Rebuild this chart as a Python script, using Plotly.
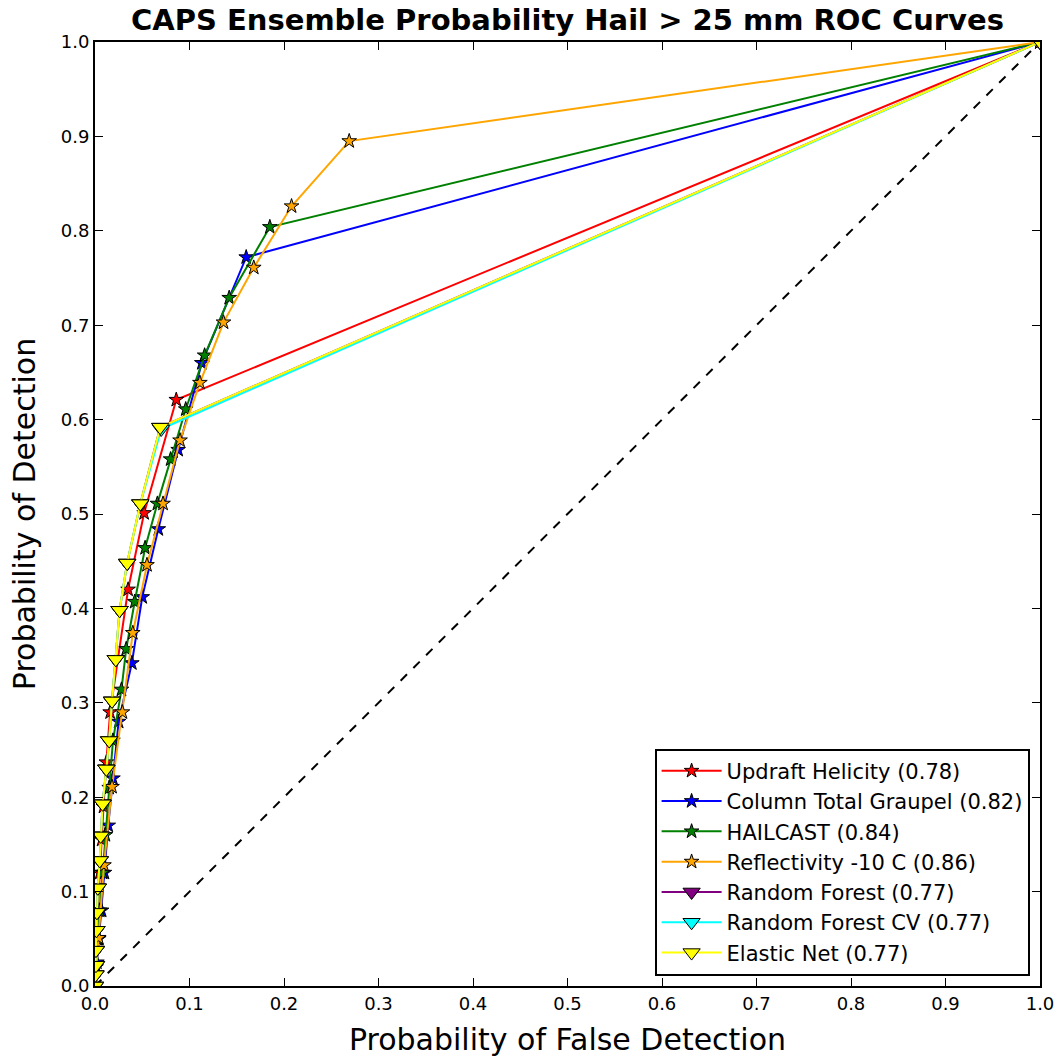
import plotly.graph_objects as go

# ROC curve points (POFD, POD)
uh_pofd = [0.0, 0.001, 0.002, 0.003, 0.005, 0.007, 0.009, 0.012, 0.016, 0.035, 0.052, 0.086, 1.0]
uh_pod = [0.0, 0.02, 0.05, 0.08, 0.12, 0.155, 0.19, 0.237, 0.290, 0.420, 0.501, 0.621, 1.0]

ctg_pofd = [0.0, 0.002, 0.004, 0.007, 0.010, 0.014, 0.019, 0.025, 0.039, 0.050, 0.067, 0.088, 0.113, 0.160, 1.0]
ctg_pod = [0.0, 0.025, 0.05, 0.08, 0.12, 0.17, 0.22, 0.28, 0.342, 0.412, 0.484, 0.568, 0.66, 0.772, 1.0]

hc_pofd = [0.0, 0.001, 0.003, 0.005, 0.008, 0.011, 0.015, 0.019, 0.028, 0.033, 0.042, 0.053, 0.066, 0.080, 0.096, 0.116, 0.142, 0.185, 1.0]
hc_pod = [0.0, 0.02, 0.05, 0.08, 0.12, 0.16, 0.21, 0.26, 0.314, 0.357, 0.407, 0.464, 0.511, 0.558, 0.611, 0.668, 0.729, 0.804, 1.0]

rf10_pofd = [0.0, 0.004, 0.0095, 0.018, 0.029, 0.040, 0.055, 0.072, 0.090, 0.111, 0.136, 0.168, 0.208, 0.269, 1.0]
rf10_pod = [0.0, 0.051, 0.128, 0.211, 0.290, 0.374, 0.446, 0.511, 0.578, 0.639, 0.703, 0.761, 0.826, 0.895, 1.0]

en_pofd = [0.0, 0.0005, 0.001, 0.001, 0.0015, 0.002, 0.003, 0.005, 0.006, 0.008, 0.012, 0.015, 0.018, 0.022, 0.026, 0.034, 0.048, 0.069, 1.0]
en_pod = [0.0, 0.012, 0.022, 0.038, 0.059, 0.078, 0.104, 0.133, 0.159, 0.193, 0.230, 0.260, 0.302, 0.346, 0.398, 0.448, 0.511, 0.592, 1.0]

rf_pofd = en_pofd
rf_pod = en_pod
rfcv_pofd = [0.0, 0.0005, 0.001, 0.001, 0.0015, 0.002, 0.003, 0.005, 0.006, 0.008, 0.012, 0.015, 0.018, 0.022, 0.026, 0.034, 0.048, 0.070, 1.0]
rfcv_pod = [0.0, 0.012, 0.022, 0.038, 0.059, 0.078, 0.104, 0.133, 0.159, 0.193, 0.230, 0.260, 0.302, 0.346, 0.398, 0.448, 0.511, 0.590, 1.0]

series = [
    ("Updraft Helicity (0.78)", uh_pofd, uh_pod, "red", "star"),
    ("Column Total Graupel (0.82)", ctg_pofd, ctg_pod, "blue", "star"),
    ("HAILCAST (0.84)", hc_pofd, hc_pod, "green", "star"),
    ("Reflectivity -10 C (0.86)", rf10_pofd, rf10_pod, "orange", "star"),
    ("Random Forest (0.77)", rf_pofd, rf_pod, "purple", "triangle-down"),
    ("Random Forest CV (0.77)", rfcv_pofd, rfcv_pod, "cyan", "triangle-down"),
    ("Elastic Net (0.77)", en_pofd, en_pod, "yellow", "triangle-down"),
]

fig = go.Figure()

fig.add_trace(go.Scatter(x=[0, 1], y=[0, 1], mode="lines",
                         line=dict(color="black", width=2, dash="dash"),
                         showlegend=False, hoverinfo="skip"))

for name, xs, ys, color, sym in series:
    size = 11 if sym == "star" else 15
    fig.add_trace(go.Scatter(
        x=xs, y=ys, mode="lines+markers", name=name,
        line=dict(color=color, width=2),
        marker=dict(symbol=sym, size=size, color=color,
                    line=dict(color="black", width=1)),
    ))

axis_common = dict(
    range=[0, 1], dtick=0.1, tickformat=".1f",
    showgrid=False, zeroline=False, automargin=False,
    showline=True, linecolor="black", linewidth=2, mirror="allticks",
    ticks="inside", ticklen=8, tickwidth=1, tickcolor="black",
    tickfont=dict(family="DejaVu Sans", size=18, color="black"),
)

fig.update_layout(
    width=1064, height=1059,
    margin=dict(l=95, r=24, t=42, b=73),
    paper_bgcolor="white", plot_bgcolor="white",
    title=dict(text="<b>CAPS Ensemble Probability Hail &gt; 25 mm ROC Curves</b>",
               x=(95 + 1040) / 2 / 1064, xanchor="center", y=1 - 20 / 1059, yanchor="middle",
               font=dict(family="DejaVu Sans", size=29, color="black")),
    xaxis=dict(axis_common, title=dict(text="Probability of False Detection",
                                       font=dict(family="DejaVu Sans", size=30, color="black"),
                                       standoff=16)),
    yaxis=dict(axis_common, title=dict(text="Probability of Detection",
                                       font=dict(family="DejaVu Sans", size=30, color="black"),
                                       standoff=16)),
    legend=dict(x=0.989, y=0.011, xanchor="right", yanchor="bottom",
                bordercolor="black", borderwidth=2, bgcolor="white",
                font=dict(family="DejaVu Sans", size=21, color="black"),
                itemwidth=60),
    showlegend=True,
)

fig.write_html("out.html")
